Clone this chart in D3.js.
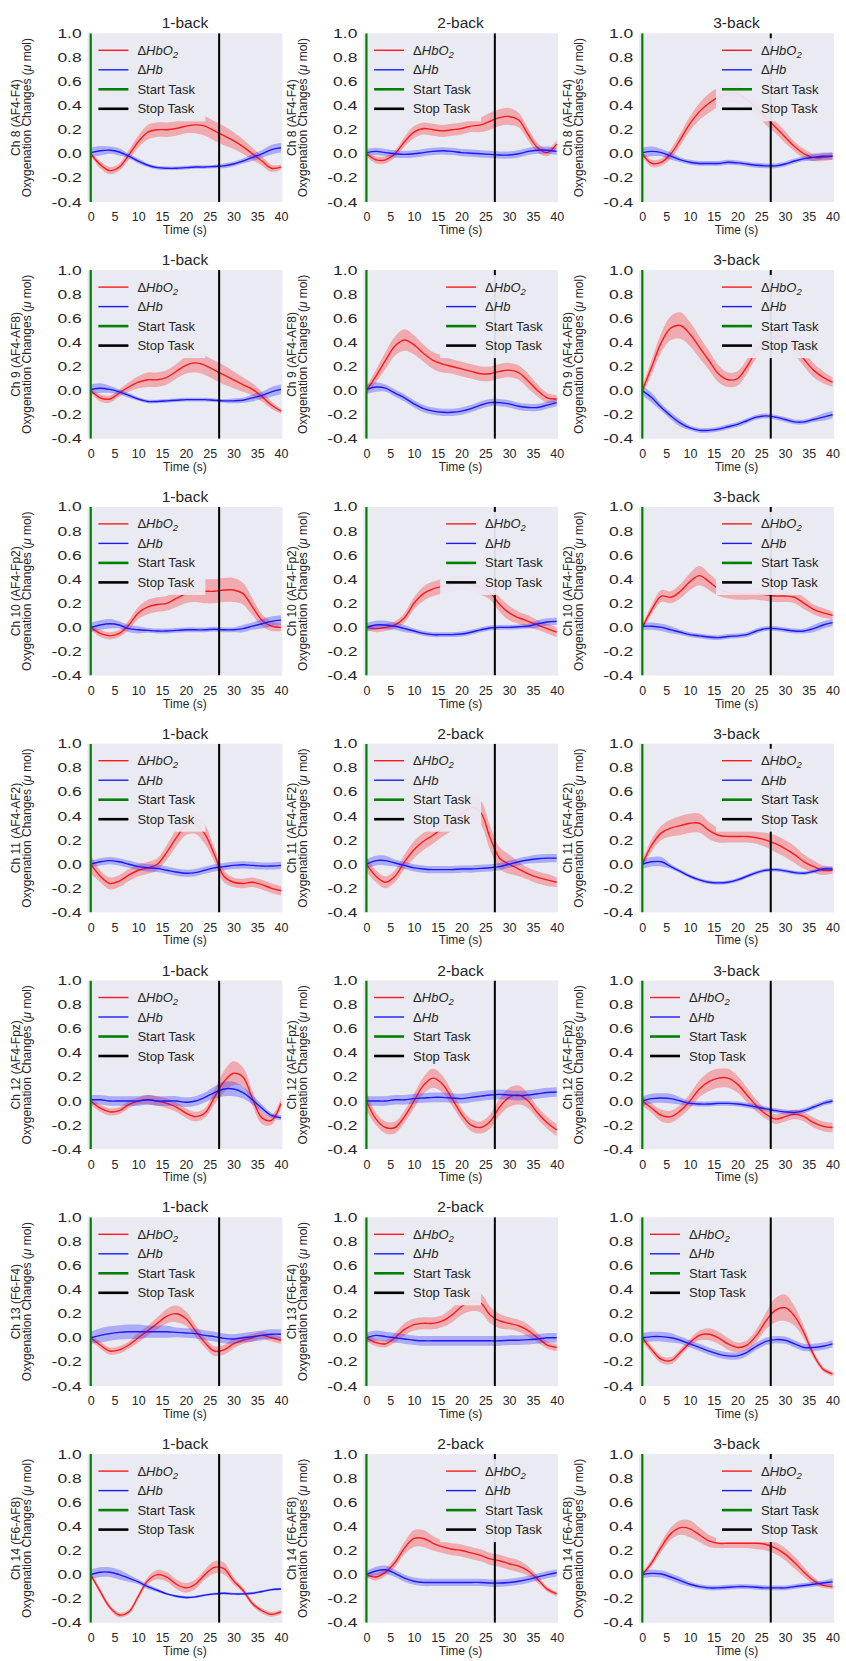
<!DOCTYPE html>
<html>
<head>
<meta charset="utf-8">
<script src="https://cdn.jsdelivr.net/npm/d3@7"></script>
<style>
  body { margin: 0; background: #fff; }
  svg text { font-family: 'Liberation Sans', Arial, sans-serif; fill: #262626; }
</style>
</head>
<body>
<div id="chart"></div>
<script>
// time axis of every averaged trace (s)
const times = [0, 2, 4, 6, 8, 10, 12, 14, 16, 18, 20, 22, 24, 26, 28, 30, 32, 34, 36, 38, 40]
const tasks = ['1-back', '2-back', '3-back']
const channels = ['Ch 8 (AF4-F4)', 'Ch 9 (AF4-AF8)', 'Ch 10 (AF4-Fp2)', 'Ch 11 (AF4-AF2)', 'Ch 12 (AF4-Fpz)', 'Ch 13 (F6-F4)', 'Ch 14 (F6-AF8)']
const xTicks = [0, 5, 10, 15, 20, 25, 30, 35, 40]
const yTicks = [-0.4, -0.2, 0.0, 0.2, 0.4, 0.6, 0.8, 1.0]
const yTickLabels = ['-0.4', '-0.2', '0.0', '0.2', '0.4', '0.6', '0.8', '1.0']
const startTask = 0
const stopTask = 27

// mean traces, one entry per task (1-back, 2-back, 3-back)
const ch8Hbo2 = [
  [0.00, -0.09, -0.14, -0.11, -0.01, 0.10, 0.18, 0.20, 0.20, 0.21, 0.23, 0.24, 0.23, 0.19, 0.15, 0.11, 0.06, 0.00, -0.06, -0.12, -0.11],
  [0.00, -0.05, -0.05, 0.00, 0.10, 0.18, 0.21, 0.20, 0.19, 0.20, 0.21, 0.23, 0.24, 0.27, 0.30, 0.31, 0.28, 0.16, 0.05, 0.01, 0.08],
  [0.00, -0.08, -0.07, 0.00, 0.12, 0.25, 0.35, 0.42, 0.47, 0.50, 0.50, 0.45, 0.38, 0.30, 0.22, 0.14, 0.06, 0.00, -0.03, -0.03, -0.02]
]
const ch8Hb = [
  [0.01, 0.025, 0.03, 0.015, -0.02, -0.06, -0.095, -0.115, -0.12, -0.12, -0.115, -0.11, -0.11, -0.105, -0.10, -0.085, -0.06, -0.03, 0.00, 0.035, 0.05],
  [0.01, 0.02, 0.01, 0.00, -0.005, 0.00, 0.01, 0.02, 0.025, 0.02, 0.01, 0.005, 0.00, -0.005, -0.01, -0.01, 0.00, 0.02, 0.03, 0.03, 0.02],
  [0.01, 0.02, 0.01, -0.02, -0.05, -0.07, -0.08, -0.08, -0.08, -0.07, -0.075, -0.085, -0.095, -0.10, -0.10, -0.085, -0.06, -0.04, -0.03, -0.02, -0.02]
]
const ch9Hbo2 = [
  [0.00, -0.06, -0.07, -0.02, 0.03, 0.07, 0.09, 0.09, 0.11, 0.16, 0.21, 0.23, 0.21, 0.17, 0.13, 0.09, 0.05, 0.01, -0.05, -0.12, -0.17],
  [0.00, 0.12, 0.25, 0.37, 0.42, 0.38, 0.31, 0.25, 0.22, 0.20, 0.18, 0.16, 0.14, 0.14, 0.16, 0.17, 0.15, 0.08, 0.00, -0.06, -0.07],
  [0.00, 0.20, 0.40, 0.52, 0.54, 0.47, 0.36, 0.25, 0.14, 0.09, 0.10, 0.20, 0.33, 0.40, 0.45, 0.44, 0.36, 0.26, 0.17, 0.11, 0.07]
]
const ch9Hb = [
  [0.01, 0.02, 0.01, -0.01, -0.04, -0.07, -0.09, -0.09, -0.085, -0.08, -0.075, -0.075, -0.075, -0.08, -0.085, -0.085, -0.08, -0.06, -0.04, -0.01, 0.01],
  [0.01, 0.03, 0.02, -0.02, -0.06, -0.11, -0.15, -0.17, -0.18, -0.18, -0.17, -0.15, -0.12, -0.10, -0.10, -0.11, -0.13, -0.14, -0.14, -0.12, -0.10],
  [0.00, -0.06, -0.14, -0.21, -0.27, -0.31, -0.33, -0.33, -0.32, -0.30, -0.28, -0.25, -0.22, -0.21, -0.22, -0.24, -0.26, -0.26, -0.24, -0.22, -0.20]
]
const ch10Hbo2 = [
  [0.00, -0.05, -0.07, -0.05, 0.02, 0.12, 0.17, 0.19, 0.20, 0.24, 0.28, 0.30, 0.30, 0.30, 0.31, 0.31, 0.28, 0.17, 0.06, 0.01, 0.00],
  [0.00, -0.01, 0.00, 0.02, 0.08, 0.20, 0.28, 0.32, 0.34, 0.36, 0.37, 0.36, 0.33, 0.29, 0.19, 0.12, 0.08, 0.05, 0.02, -0.01, -0.04],
  [0.00, 0.15, 0.26, 0.25, 0.30, 0.38, 0.43, 0.38, 0.32, 0.29, 0.28, 0.28, 0.28, 0.27, 0.26, 0.26, 0.25, 0.20, 0.15, 0.12, 0.10]
]
const ch10Hb = [
  [0.00, 0.02, 0.03, 0.02, -0.01, -0.02, -0.025, -0.03, -0.03, -0.025, -0.02, -0.02, -0.02, -0.015, -0.02, -0.02, -0.01, 0.01, 0.03, 0.05, 0.06],
  [0.00, 0.02, 0.02, 0.01, -0.01, -0.03, -0.05, -0.06, -0.06, -0.06, -0.055, -0.04, -0.02, -0.005, 0.00, 0.00, 0.005, 0.01, 0.03, 0.045, 0.05],
  [0.01, 0.01, 0.00, -0.02, -0.04, -0.06, -0.07, -0.08, -0.085, -0.075, -0.07, -0.06, -0.03, -0.01, -0.01, -0.02, -0.03, -0.03, -0.01, 0.02, 0.04]
]
const ch11Hbo2 = [
  [0.00, -0.10, -0.16, -0.14, -0.09, -0.05, -0.03, 0.00, 0.10, 0.22, 0.32, 0.33, 0.25, 0.08, -0.10, -0.15, -0.16, -0.15, -0.17, -0.20, -0.22],
  [0.00, -0.10, -0.15, -0.10, 0.02, 0.12, 0.19, 0.24, 0.30, 0.35, 0.42, 0.47, 0.43, 0.22, 0.05, 0.00, -0.04, -0.08, -0.11, -0.13, -0.15],
  [0.00, 0.16, 0.26, 0.30, 0.32, 0.34, 0.34, 0.28, 0.24, 0.23, 0.23, 0.23, 0.22, 0.20, 0.17, 0.13, 0.08, 0.02, -0.02, -0.05, -0.05]
]
const ch11Hb = [
  [0.00, 0.02, 0.03, 0.02, 0.00, -0.02, -0.03, -0.035, -0.05, -0.065, -0.075, -0.07, -0.05, -0.03, -0.02, -0.01, -0.005, -0.01, -0.015, -0.015, -0.01],
  [0.00, 0.03, 0.03, 0.01, -0.01, -0.03, -0.04, -0.045, -0.045, -0.045, -0.04, -0.04, -0.035, -0.03, -0.02, 0.00, 0.02, 0.035, 0.045, 0.05, 0.05],
  [0.00, 0.02, 0.02, -0.02, -0.06, -0.10, -0.13, -0.15, -0.155, -0.15, -0.13, -0.10, -0.07, -0.05, -0.045, -0.055, -0.07, -0.075, -0.06, -0.04, -0.04]
]
const ch12Hbo2 = [
  [0.00, -0.06, -0.09, -0.08, -0.03, 0.00, 0.01, 0.00, -0.02, -0.05, -0.10, -0.13, -0.10, 0.03, 0.16, 0.23, 0.20, 0.02, -0.14, -0.16, -0.02],
  [0.00, -0.15, -0.22, -0.22, -0.13, 0.00, 0.13, 0.19, 0.14, 0.02, -0.11, -0.20, -0.22, -0.17, -0.05, 0.03, 0.05, 0.00, -0.10, -0.18, -0.24],
  [0.00, -0.06, -0.12, -0.13, -0.08, 0.00, 0.10, 0.16, 0.19, 0.19, 0.14, 0.05, -0.04, -0.11, -0.15, -0.13, -0.11, -0.13, -0.18, -0.21, -0.22]
]
const ch12Hb = [
  [0.01, 0.01, 0.00, 0.00, 0.00, 0.00, 0.01, 0.00, 0.00, 0.00, -0.01, 0.00, 0.03, 0.07, 0.10, 0.10, 0.07, 0.01, -0.06, -0.12, -0.14],
  [0.00, 0.00, 0.00, 0.01, 0.01, 0.02, 0.025, 0.03, 0.03, 0.025, 0.02, 0.03, 0.04, 0.05, 0.055, 0.05, 0.045, 0.05, 0.06, 0.07, 0.075],
  [0.00, 0.02, 0.025, 0.02, 0.00, -0.02, -0.025, -0.025, -0.02, -0.02, -0.025, -0.035, -0.05, -0.065, -0.08, -0.09, -0.095, -0.08, -0.05, -0.02, 0.00]
]
const ch13Hbo2 = [
  [0.00, -0.06, -0.11, -0.10, -0.06, 0.00, 0.06, 0.12, 0.18, 0.20, 0.16, 0.06, -0.04, -0.11, -0.10, -0.05, -0.02, 0.00, 0.02, 0.00, -0.02],
  [0.00, -0.04, -0.05, 0.00, 0.07, 0.11, 0.12, 0.12, 0.14, 0.19, 0.26, 0.30, 0.29, 0.19, 0.14, 0.12, 0.10, 0.06, 0.00, -0.06, -0.08],
  [0.00, -0.10, -0.18, -0.19, -0.12, -0.04, 0.02, 0.03, 0.00, -0.05, -0.08, -0.06, 0.02, 0.14, 0.23, 0.25, 0.18, 0.04, -0.14, -0.26, -0.30]
]
const ch13Hb = [
  [0.00, 0.02, 0.035, 0.045, 0.05, 0.05, 0.05, 0.05, 0.05, 0.045, 0.04, 0.035, 0.02, 0.01, -0.005, -0.01, 0.00, 0.01, 0.02, 0.03, 0.03],
  [0.00, 0.02, 0.01, 0.00, -0.01, -0.02, -0.025, -0.025, -0.025, -0.025, -0.025, -0.025, -0.025, -0.025, -0.025, -0.02, -0.02, -0.015, -0.01, 0.00, 0.00],
  [0.00, 0.01, 0.01, 0.00, -0.02, -0.05, -0.08, -0.11, -0.135, -0.15, -0.15, -0.12, -0.07, -0.03, -0.015, -0.02, -0.05, -0.08, -0.08, -0.07, -0.05]
]
const ch14Hbo2 = [
  [0.00, -0.14, -0.27, -0.335, -0.31, -0.18, -0.05, 0.00, -0.02, -0.08, -0.11, -0.08, 0.00, 0.06, 0.05, -0.05, -0.13, -0.24, -0.30, -0.33, -0.31],
  [0.00, -0.02, 0.02, 0.10, 0.22, 0.30, 0.30, 0.26, 0.23, 0.21, 0.20, 0.18, 0.16, 0.13, 0.115, 0.09, 0.07, 0.03, -0.04, -0.12, -0.16],
  [0.00, 0.10, 0.23, 0.34, 0.39, 0.38, 0.33, 0.28, 0.26, 0.26, 0.26, 0.26, 0.26, 0.25, 0.22, 0.17, 0.10, 0.02, -0.05, -0.09, -0.10]
]
const ch14Hb = [
  [0.00, 0.02, 0.02, 0.00, -0.03, -0.06, -0.10, -0.13, -0.16, -0.18, -0.19, -0.185, -0.17, -0.16, -0.155, -0.16, -0.16, -0.155, -0.14, -0.125, -0.12],
  [0.00, 0.03, 0.04, 0.01, -0.03, -0.055, -0.065, -0.065, -0.065, -0.065, -0.065, -0.065, -0.065, -0.07, -0.07, -0.065, -0.055, -0.04, -0.02, 0.00, 0.015],
  [0.00, 0.01, 0.005, -0.02, -0.05, -0.08, -0.10, -0.11, -0.11, -0.105, -0.10, -0.10, -0.105, -0.11, -0.11, -0.11, -0.10, -0.09, -0.08, -0.07, -0.06]
]

// standard error half-widths of the shaded bands
const ch8Hbo2Sem = [
  [0.02, 0.03, 0.03, 0.03, 0.04, 0.05, 0.06, 0.06, 0.06, 0.06, 0.06, 0.07, 0.08, 0.08, 0.08, 0.07, 0.06, 0.05, 0.04, 0.03, 0.02],
  [0.02, 0.03, 0.03, 0.03, 0.04, 0.05, 0.05, 0.05, 0.05, 0.05, 0.05, 0.05, 0.06, 0.07, 0.07, 0.07, 0.06, 0.05, 0.04, 0.03, 0.03],
  [0.02, 0.03, 0.03, 0.04, 0.05, 0.06, 0.07, 0.08, 0.08, 0.08, 0.08, 0.07, 0.06, 0.06, 0.05, 0.05, 0.04, 0.04, 0.03, 0.03, 0.03]
]
const ch8HbSem = [
  [0.04, 0.04, 0.03, 0.03, 0.02, 0.02, 0.015, 0.015, 0.015, 0.015, 0.015, 0.015, 0.015, 0.015, 0.02, 0.02, 0.02, 0.03, 0.03, 0.04, 0.04],
  [0.03, 0.03, 0.03, 0.03, 0.03, 0.03, 0.03, 0.03, 0.03, 0.03, 0.03, 0.03, 0.03, 0.03, 0.03, 0.03, 0.03, 0.03, 0.03, 0.03, 0.03],
  [0.04, 0.04, 0.03, 0.03, 0.02, 0.02, 0.02, 0.02, 0.02, 0.02, 0.02, 0.02, 0.02, 0.02, 0.02, 0.02, 0.02, 0.02, 0.03, 0.03, 0.03]
]
const ch9Hbo2Sem = [
  [0.02, 0.03, 0.03, 0.03, 0.04, 0.05, 0.06, 0.06, 0.06, 0.06, 0.07, 0.08, 0.08, 0.08, 0.08, 0.07, 0.06, 0.05, 0.04, 0.03, 0.02],
  [0.03, 0.05, 0.07, 0.08, 0.09, 0.08, 0.07, 0.07, 0.07, 0.06, 0.06, 0.06, 0.06, 0.06, 0.06, 0.06, 0.06, 0.06, 0.05, 0.04, 0.03],
  [0.03, 0.06, 0.08, 0.10, 0.11, 0.10, 0.09, 0.08, 0.07, 0.06, 0.06, 0.06, 0.06, 0.06, 0.06, 0.06, 0.06, 0.06, 0.06, 0.05, 0.04]
]
const ch9HbSem = [
  [0.04, 0.04, 0.03, 0.02, 0.02, 0.015, 0.015, 0.015, 0.015, 0.015, 0.015, 0.015, 0.015, 0.015, 0.015, 0.02, 0.02, 0.03, 0.03, 0.04, 0.04],
  [0.04, 0.04, 0.03, 0.03, 0.03, 0.03, 0.03, 0.03, 0.03, 0.03, 0.03, 0.03, 0.03, 0.03, 0.03, 0.03, 0.03, 0.03, 0.03, 0.03, 0.03],
  [0.04, 0.04, 0.03, 0.03, 0.03, 0.02, 0.02, 0.02, 0.02, 0.02, 0.02, 0.02, 0.02, 0.02, 0.02, 0.02, 0.02, 0.02, 0.02, 0.03, 0.03]
]
const ch10Hbo2Sem = [
  [0.02, 0.03, 0.03, 0.03, 0.04, 0.05, 0.06, 0.06, 0.06, 0.07, 0.08, 0.09, 0.10, 0.10, 0.10, 0.10, 0.09, 0.07, 0.05, 0.04, 0.03],
  [0.02, 0.03, 0.03, 0.03, 0.04, 0.05, 0.06, 0.06, 0.06, 0.06, 0.06, 0.06, 0.06, 0.06, 0.06, 0.06, 0.05, 0.05, 0.04, 0.04, 0.04],
  [0.02, 0.04, 0.05, 0.05, 0.06, 0.07, 0.08, 0.07, 0.06, 0.05, 0.05, 0.05, 0.05, 0.05, 0.05, 0.05, 0.05, 0.05, 0.04, 0.04, 0.03]
]
const ch10HbSem = [
  [0.04, 0.04, 0.04, 0.03, 0.03, 0.03, 0.02, 0.02, 0.02, 0.02, 0.02, 0.02, 0.02, 0.02, 0.02, 0.02, 0.03, 0.03, 0.04, 0.04, 0.04],
  [0.035, 0.035, 0.035, 0.03, 0.03, 0.02, 0.02, 0.02, 0.02, 0.02, 0.02, 0.02, 0.02, 0.02, 0.02, 0.02, 0.02, 0.02, 0.03, 0.03, 0.03],
  [0.03, 0.03, 0.03, 0.03, 0.02, 0.02, 0.02, 0.02, 0.02, 0.02, 0.02, 0.02, 0.02, 0.02, 0.02, 0.02, 0.02, 0.02, 0.03, 0.03, 0.03]
]
const ch11Hbo2Sem = [
  [0.08, 0.05, 0.05, 0.05, 0.05, 0.05, 0.05, 0.05, 0.06, 0.07, 0.08, 0.08, 0.08, 0.06, 0.05, 0.04, 0.04, 0.04, 0.04, 0.04, 0.04],
  [0.06, 0.05, 0.05, 0.05, 0.06, 0.07, 0.07, 0.07, 0.07, 0.07, 0.08, 0.10, 0.10, 0.10, 0.09, 0.08, 0.06, 0.05, 0.05, 0.05, 0.04],
  [0.03, 0.05, 0.06, 0.07, 0.08, 0.08, 0.08, 0.07, 0.06, 0.05, 0.05, 0.05, 0.05, 0.06, 0.07, 0.07, 0.07, 0.06, 0.05, 0.04, 0.03]
]
const ch11HbSem = [
  [0.03, 0.03, 0.03, 0.03, 0.03, 0.03, 0.03, 0.03, 0.03, 0.03, 0.03, 0.03, 0.03, 0.03, 0.03, 0.03, 0.03, 0.03, 0.03, 0.03, 0.03],
  [0.04, 0.04, 0.04, 0.03, 0.03, 0.03, 0.03, 0.03, 0.03, 0.03, 0.03, 0.03, 0.03, 0.03, 0.03, 0.03, 0.03, 0.03, 0.035, 0.035, 0.035],
  [0.04, 0.04, 0.04, 0.02, 0.015, 0.015, 0.015, 0.015, 0.015, 0.015, 0.015, 0.015, 0.015, 0.015, 0.015, 0.015, 0.015, 0.015, 0.015, 0.02, 0.02]
]
const ch12Hbo2Sem = [
  [0.03, 0.03, 0.03, 0.03, 0.03, 0.03, 0.04, 0.04, 0.04, 0.04, 0.04, 0.04, 0.04, 0.06, 0.09, 0.10, 0.08, 0.06, 0.05, 0.04, 0.04],
  [0.08, 0.05, 0.05, 0.05, 0.05, 0.06, 0.07, 0.08, 0.07, 0.06, 0.05, 0.05, 0.05, 0.06, 0.07, 0.08, 0.08, 0.06, 0.05, 0.05, 0.05],
  [0.04, 0.04, 0.05, 0.05, 0.05, 0.06, 0.07, 0.08, 0.08, 0.08, 0.07, 0.06, 0.05, 0.04, 0.04, 0.04, 0.04, 0.04, 0.04, 0.04, 0.04]
]
const ch12HbSem = [
  [0.04, 0.04, 0.04, 0.04, 0.04, 0.04, 0.04, 0.04, 0.04, 0.04, 0.04, 0.04, 0.04, 0.05, 0.06, 0.06, 0.05, 0.04, 0.03, 0.02, 0.02],
  [0.04, 0.04, 0.04, 0.04, 0.04, 0.04, 0.04, 0.04, 0.04, 0.04, 0.04, 0.04, 0.04, 0.04, 0.04, 0.04, 0.04, 0.04, 0.04, 0.04, 0.04],
  [0.04, 0.04, 0.04, 0.04, 0.03, 0.02, 0.02, 0.02, 0.02, 0.02, 0.02, 0.02, 0.02, 0.02, 0.02, 0.02, 0.02, 0.02, 0.02, 0.02, 0.02]
]
const ch13Hbo2Sem = [
  [0.02, 0.03, 0.03, 0.03, 0.03, 0.04, 0.04, 0.05, 0.06, 0.07, 0.06, 0.05, 0.04, 0.04, 0.04, 0.04, 0.03, 0.03, 0.03, 0.03, 0.03],
  [0.03, 0.03, 0.03, 0.04, 0.05, 0.05, 0.05, 0.05, 0.05, 0.06, 0.07, 0.08, 0.08, 0.07, 0.06, 0.05, 0.05, 0.05, 0.04, 0.03, 0.03],
  [0.03, 0.03, 0.03, 0.03, 0.03, 0.03, 0.04, 0.05, 0.05, 0.05, 0.04, 0.04, 0.05, 0.07, 0.10, 0.11, 0.08, 0.05, 0.03, 0.02, 0.02]
]
const ch13HbSem = [
  [0.05, 0.06, 0.06, 0.06, 0.06, 0.06, 0.05, 0.05, 0.05, 0.04, 0.04, 0.04, 0.04, 0.04, 0.04, 0.04, 0.04, 0.04, 0.04, 0.04, 0.04],
  [0.04, 0.04, 0.04, 0.04, 0.04, 0.04, 0.04, 0.04, 0.04, 0.04, 0.04, 0.04, 0.04, 0.04, 0.04, 0.04, 0.04, 0.04, 0.04, 0.04, 0.04],
  [0.04, 0.04, 0.04, 0.04, 0.03, 0.03, 0.03, 0.03, 0.03, 0.03, 0.03, 0.03, 0.03, 0.03, 0.03, 0.03, 0.03, 0.03, 0.03, 0.03, 0.03]
]
const ch14Hbo2Sem = [
  [0.02, 0.02, 0.02, 0.02, 0.02, 0.02, 0.03, 0.04, 0.04, 0.04, 0.04, 0.04, 0.04, 0.05, 0.05, 0.03, 0.02, 0.02, 0.02, 0.02, 0.02],
  [0.02, 0.03, 0.03, 0.04, 0.05, 0.07, 0.07, 0.06, 0.05, 0.05, 0.05, 0.05, 0.05, 0.05, 0.05, 0.05, 0.05, 0.04, 0.03, 0.02, 0.02],
  [0.02, 0.03, 0.04, 0.05, 0.06, 0.07, 0.06, 0.05, 0.04, 0.04, 0.04, 0.04, 0.05, 0.05, 0.05, 0.05, 0.05, 0.04, 0.03, 0.02, 0.02]
]
const ch14HbSem = [
  [0.04, 0.04, 0.04, 0.04, 0.03, 0.02, 0.02, 0.015, 0.01, 0.01, 0.01, 0.01, 0.01, 0.01, 0.01, 0.01, 0.01, 0.01, 0.01, 0.01, 0.01],
  [0.03, 0.035, 0.035, 0.03, 0.03, 0.03, 0.03, 0.03, 0.03, 0.03, 0.03, 0.03, 0.03, 0.03, 0.03, 0.03, 0.03, 0.03, 0.03, 0.03, 0.03],
  [0.03, 0.03, 0.03, 0.03, 0.03, 0.02, 0.02, 0.02, 0.02, 0.02, 0.02, 0.02, 0.02, 0.02, 0.02, 0.02, 0.02, 0.02, 0.02, 0.02, 0.03]
]

const hbo2 = [ch8Hbo2, ch9Hbo2, ch10Hbo2, ch11Hbo2, ch12Hbo2, ch13Hbo2, ch14Hbo2]
const hb = [ch8Hb, ch9Hb, ch10Hb, ch11Hb, ch12Hb, ch13Hb, ch14Hb]
const hbo2Sem = [ch8Hbo2Sem, ch9Hbo2Sem, ch10Hbo2Sem, ch11Hbo2Sem, ch12Hbo2Sem, ch13Hbo2Sem, ch14Hbo2Sem]
const hbSem = [ch8HbSem, ch9HbSem, ch10HbSem, ch11HbSem, ch12HbSem, ch13HbSem, ch14HbSem]

// where matplotlib put each legend, and which panels kept title / ylabel
const legendSide = [
  ['left', 'left', 'right'],
  ['left', 'right', 'right'],
  ['left', 'right', 'right'],
  ['left', 'left', 'right'],
  ['left', 'left', 'left'],
  ['left', 'left', 'left'],
  ['left', 'right', 'right']
]
const hasTitle = [[1, 1, 1], [1, 0, 1], [1, 0, 1], [1, 1, 1], [1, 1, 1], [1, 1, 0], [1, 1, 1]]
const hasYLabel = [[1, 1, 1], [1, 1, 1], [1, 1, 1], [1, 1, 1], [1, 1, 1], [1, 1, 0], [1, 1, 1]]

const RED = '#ff1a1a'
const BLUE = '#1a1aff'
const GREEN = '#008000'
const BG = '#eaeaf2'

const colLeft = [87.4, 363.1, 639]
const plotW = 195
const plotH = 168.7
const rowTop = r => 33.3 + r * 236.8

const svg = d3.select('#chart')
  .append('svg')
  .attr('width', 846)
  .attr('height', 1661)

const x = d3.scaleLinear().domain([-0.7, 40.3]).range([0, plotW])
const y = d3.scaleLinear().domain([-0.4, 1.0]).range([plotH, 0])

const bandArea = (mean, sem) => d3.area()
  .x((d, i) => x(times[i]))
  .y0((d, i) => y(mean[i] - sem[i]))
  .y1((d, i) => y(mean[i] + sem[i]))
  .curve(d3.curveCatmullRom)

const meanLine = mean => d3.line()
  .x((d, i) => x(times[i]))
  .y((d, i) => y(mean[i]))
  .curve(d3.curveCatmullRom)

function drawPanel (r, c) {
  const g = svg.append('g')
    .attr('transform', `translate(${colLeft[c]},${rowTop(r)})`)
  const clipId = `clip-${r}-${c}`

  g.append('clipPath').attr('id', clipId)
    .append('rect').attr('width', plotW).attr('height', plotH)

  g.append('rect')
    .attr('width', plotW)
    .attr('height', plotH)
    .attr('fill', BG)

  const marks = g.append('g').attr('clip-path', `url(#${clipId})`)
  const o = hbo2[r][c]
  const h = hb[r][c]

  marks.append('path')
    .attr('d', bandArea(o, hbo2Sem[r][c])(times))
    .attr('fill', RED).attr('opacity', 0.3)
  marks.append('path')
    .attr('d', meanLine(o)(times))
    .attr('fill', 'none').attr('stroke', RED).attr('stroke-width', 1.4)
  marks.append('path')
    .attr('d', bandArea(h, hbSem[r][c])(times))
    .attr('fill', BLUE).attr('opacity', 0.3)
  marks.append('path')
    .attr('d', meanLine(h)(times))
    .attr('fill', 'none').attr('stroke', BLUE).attr('stroke-width', 1.4)

  marks.append('line')
    .attr('x1', x(startTask)).attr('x2', x(startTask))
    .attr('y1', 0).attr('y2', plotH)
    .attr('stroke', GREEN).attr('stroke-width', 2.2)
  marks.append('line')
    .attr('x1', x(stopTask)).attr('x2', x(stopTask))
    .attr('y1', 0).attr('y2', plotH)
    .attr('stroke', '#000').attr('stroke-width', 2)

  // axes, seaborn style: no spines, no tick marks
  const xAxis = g.append('g')
    .attr('transform', `translate(0,${plotH})`)
    .call(d3.axisBottom(x).tickValues(xTicks).tickSize(0).tickPadding(10.5))
  xAxis.select('.domain').remove()
  xAxis.selectAll('text').style('font-size', '12.5px').attr('fill', '#262626')

  const yAxis = g.append('g')
    .call(d3.axisLeft(y).tickValues(yTicks).tickSize(0)
      .tickFormat((d, i) => yTickLabels[i]))
  yAxis.select('.domain').remove()
  yAxis.selectAll('text')
    .attr('x', null)
    .attr('transform', 'translate(-5.7,0) scale(1.4,1)')
    .style('font-size', '12.5px')
    .attr('fill', '#262626')

  g.append('text')
    .attr('x', plotW / 2)
    .attr('y', plotH + 32)
    .attr('text-anchor', 'middle')
    .style('font-size', '12px')
    .text('Time (s)')

  if (hasTitle[r][c]) {
    g.append('text')
      .attr('x', plotW / 2)
      .attr('y', -5)
      .attr('text-anchor', 'middle')
      .style('font-size', '15.5px')
      .text(tasks[c])
  }

  if (hasYLabel[r][c]) {
    const lab = g.append('text')
      .attr('transform', `translate(-56.5,${plotH / 2}) rotate(-90)`)
      .attr('text-anchor', 'middle')
      .style('font-size', '12px')
    lab.append('tspan').attr('x', 0).attr('dy', -10.6).text(channels[r])
    const l2 = lab.append('tspan').attr('x', 0).attr('dy', 10.6)
    l2.append('tspan').text('Oxygenation Changes (')
    l2.append('tspan').attr('font-style', 'italic').text('μ')
    l2.append('tspan').text(' mol)')
  }

  drawLegend(g, legendSide[r][c])
}

function drawLegend (g, side) {
  const boxW = 113
  const bx = side === 'left' ? 5 : plotW - 5 - boxW
  const lg = g.append('g').attr('transform', `translate(${bx},5)`)

  lg.append('rect')
    .attr('width', boxW)
    .attr('height', 83)
    .attr('fill', BG)
    .attr('opacity', 0.94)

  const items = [
    {color: RED, width: 1.4, kind: 'hbo2'},
    {color: BLUE, width: 1.4, kind: 'hb'},
    {color: GREEN, width: 2.6, kind: 'Start Task'},
    {color: '#000', width: 2.6, kind: 'Stop Task'},
  ]

  items.forEach((it, i) => {
    const yy = 12 + i * 19.5
    lg.append('line')
      .attr('x1', 6).attr('x2', 36)
      .attr('y1', yy).attr('y2', yy)
      .attr('stroke', it.color).attr('stroke-width', it.width)
    const t = lg.append('text')
      .attr('x', 45)
      .attr('y', yy + 4.6)
      .style('font-size', '13px')
    if (it.kind === 'hbo2') {
      t.append('tspan').text('Δ')
      t.append('tspan').attr('font-style', 'italic').text('HbO')
      t.append('tspan').attr('font-style', 'italic').attr('font-size', '9.5px').attr('dy', 3).text('2')
    } else if (it.kind === 'hb') {
      t.append('tspan').text('Δ')
      t.append('tspan').attr('font-style', 'italic').text('Hb')
    } else {
      t.text(it.kind)
    }
  })
}

for (let r = 0; r < channels.length; r++) {
  for (let c = 0; c < tasks.length; c++) {
    drawPanel(r, c)
  }
}
</script>
</body>
</html>
